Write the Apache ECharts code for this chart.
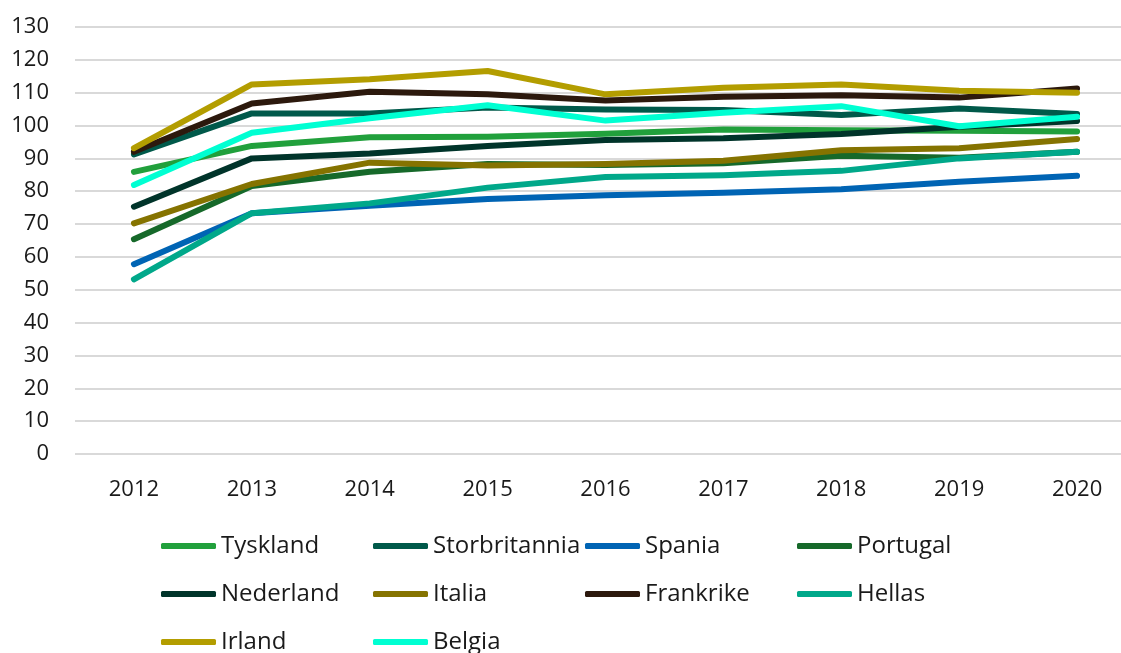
<!DOCTYPE html>
<html>
<head>
<meta charset="utf-8">
<script src="https://cdn.jsdelivr.net/npm/echarts@6/dist/echarts.min.js"></script>
<style>
  html, body { margin: 0; padding: 0; background: #fff; }
  #chart { width: 1121px; height: 653px; }
</style>
</head>
<body>
<div id="chart"></div>
<script>
  // år
  var years = ['2012', '2013', '2014', '2015', '2016', '2017', '2018', '2019', '2020'];

  // indeks per land
  var tyskland = [85.9, 93.8, 96.4, 96.6, 97.5, 98.8, 98.6, 98.4, 98.2];
  var storbritannia = [91.2, 103.7, 103.7, 105.5, 104.9, 104.7, 103.2, 105.2, 103.5];
  var spania = [57.8, 73.3, 75.6, 77.6, 78.8, 79.5, 80.6, 82.9, 84.7];
  var portugal = [65.4, 81.6, 85.9, 88.3, 88.0, 88.5, 90.8, 90.2, 92.0];
  var nederland = [75.3, 90.0, 91.5, 93.8, 95.6, 96.1, 97.4, 99.6, 101.4];
  var italia = [70.2, 82.2, 88.7, 87.8, 88.3, 89.3, 92.5, 93.1, 95.9];
  var frankrike = [92.0, 106.7, 110.3, 109.5, 107.6, 108.8, 109.2, 108.5, 111.3];
  var hellas = [53.2, 73.3, 76.3, 81.1, 84.3, 84.9, 86.2, 90.0, 92.0];
  var irland = [93.1, 112.5, 114.1, 116.6, 109.5, 111.5, 112.5, 110.6, 110.0];
  var belgia = [81.9, 97.8, 102.2, 106.2, 101.5, 103.9, 105.9, 99.8, 102.7];

  var names = ['Tyskland', 'Storbritannia', 'Spania', 'Portugal', 'Nederland',
               'Italia', 'Frankrike', 'Hellas', 'Irland', 'Belgia'];
  var values = [tyskland, storbritannia, spania, portugal, nederland,
                italia, frankrike, hellas, irland, belgia];
  var colors = ['#21a03c', '#00594a', '#0064b4', '#16692a', '#00342a',
                '#857300', '#2c190d', '#00a88a', '#b39d00', '#00ffd2'];

  var font = "'Open Sans', 'DejaVu Sans', sans-serif";

  function legendCol(left, data) {
    return {
      orient: 'vertical',
      left: left,
      top: 532,
      height: 140,
      padding: 0,
      data: data,
      icon: 'roundRect',
      itemWidth: 55,
      itemHeight: 6,
      itemGap: 20,
      textStyle: { fontFamily: font, fontSize: 24, color: '#1a1a1a', lineHeight: 28 }
    };
  }

  var chart = echarts.init(document.getElementById('chart'));
  chart.setOption({
    animation: false,
    color: colors,
    grid: { left: 75, top: 27, width: 1061, height: 427, outerBoundsMode: 'none' },
    legend: [
      legendCol(161, ['Tyskland', 'Nederland', 'Irland']),
      legendCol(373, ['Storbritannia', 'Italia', 'Belgia']),
      legendCol(585, ['Spania', 'Frankrike']),
      legendCol(797, ['Portugal', 'Hellas'])
    ],
    xAxis: {
      type: 'category',
      data: years,
      axisLine: { show: false },
      axisTick: { show: false },
      axisLabel: { fontFamily: font, fontSize: 22, color: '#1a1a1a', margin: 25 }
    },
    yAxis: {
      type: 'value',
      min: 0,
      max: 130,
      interval: 10,
      axisLine: { show: false },
      axisTick: { show: false },
      splitLine: { lineStyle: { color: '#d9d9d9', width: 2 } },
      axisLabel: { fontFamily: font, fontSize: 22, color: '#1a1a1a', margin: 26 }
    },
    series: names.map(function (n, i) {
      return {
        name: n,
        type: 'line',
        data: values[i],
        showSymbol: false,
        symbol: 'none',
        lineStyle: { width: 6, cap: 'round', join: 'round' }
      };
    })
  });
</script>
</body>
</html>
